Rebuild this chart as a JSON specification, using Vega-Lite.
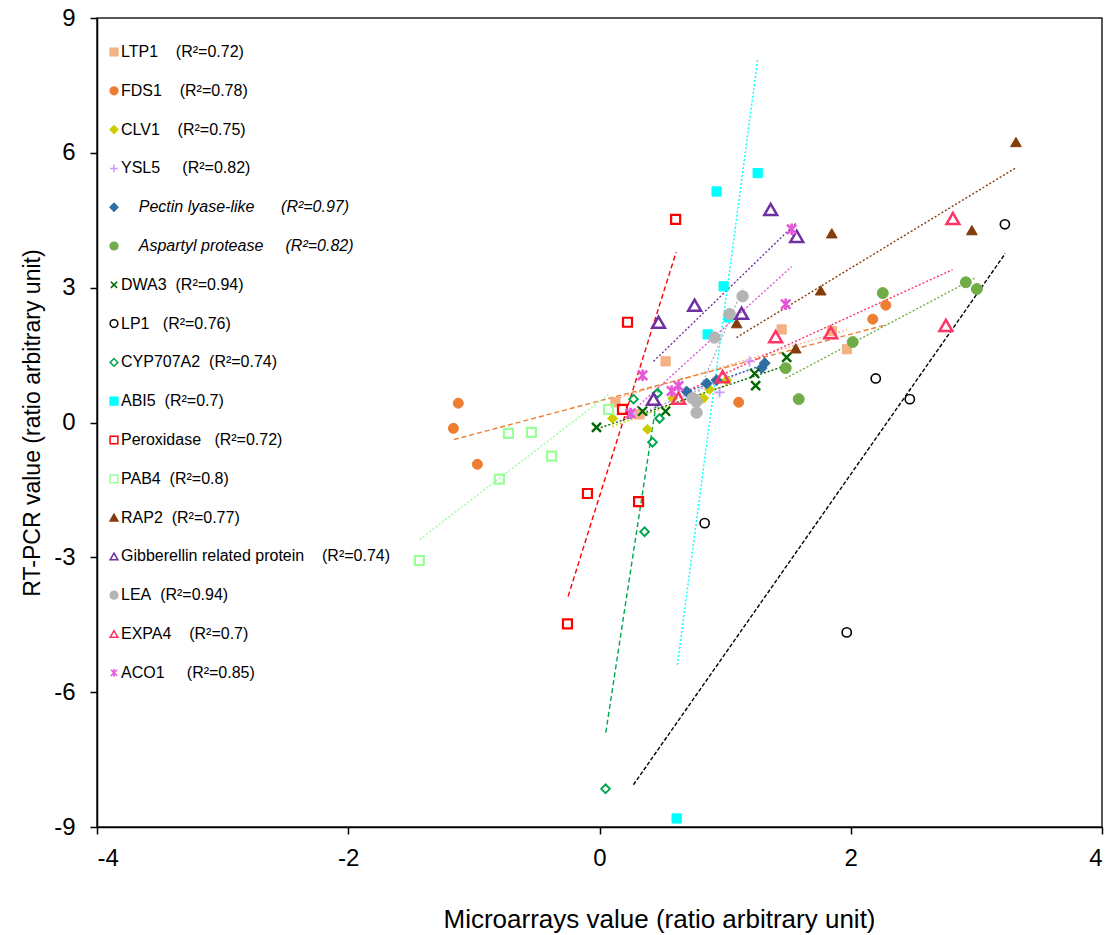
{
  "$schema": "https://vega.github.io/schema/vega-lite/v6.json",
  "width": 1005,
  "height": 809,
  "autosize": "none",
  "padding": {"left": 97, "top": 18, "right": 13, "bottom": 108},
  "config": {
    "font": "Liberation Sans",
    "view": {"stroke": "#222222", "strokeWidth": 1.5},
    "axis": {"grid": false, "domainColor": "#000000", "domainWidth": 1.5, "tickColor": "#000000", "tickWidth": 1.5, "tickSize": 7, "labelFontSize": 24, "labelColor": "#000000", "titleFontSize": 24, "titleFontWeight": "normal", "titleColor": "#000000", "labelFont": "Liberation Sans", "titleFont": "Liberation Sans"}
  },
  "datasets": {
    "pts": [
      {"series": "LTP1", "x": 0.526, "y": 1.36}, {"series": "LTP1", "x": 1.45, "y": 2.07}, {"series": "LTP1", "x": 1.97, "y": 1.63}, {"series": "LTP1", "x": 1.85, "y": 2.03}, {"series": "LTP1", "x": 0.127, "y": 0.45}, {"series": "LTP1", "x": 0.319, "y": 0.18},
      {"series": "FDS1", "x": -1.124, "y": 0.43}, {"series": "FDS1", "x": -1.163, "y": -0.13}, {"series": "FDS1", "x": -0.972, "y": -0.93}, {"series": "FDS1", "x": 1.108, "y": 0.45}, {"series": "FDS1", "x": 2.175, "y": 2.30}, {"series": "FDS1", "x": 2.279, "y": 2.61},
      {"series": "CLV1", "x": 0.104, "y": 0.09}, {"series": "CLV1", "x": 0.382, "y": -0.15}, {"series": "CLV1", "x": 0.582, "y": 0.54}, {"series": "CLV1", "x": 0.829, "y": 0.54}, {"series": "CLV1", "x": 0.876, "y": 0.74}, {"series": "CLV1", "x": 1.012, "y": 0.94},
      {"series": "YSL5", "x": 1.195, "y": 1.36}, {"series": "YSL5", "x": 0.956, "y": 0.67}, {"series": "YSL5", "x": 0.255, "y": 0.2},
      {"series": "Pectin lyase-like", "x": 0.693, "y": 0.69}, {"series": "Pectin lyase-like", "x": 0.853, "y": 0.87}, {"series": "Pectin lyase-like", "x": 0.932, "y": 0.94}, {"series": "Pectin lyase-like", "x": 1.291, "y": 1.21}, {"series": "Pectin lyase-like", "x": 1.315, "y": 1.32},
      {"series": "Aspartyl protease", "x": 1.482, "y": 1.21}, {"series": "Aspartyl protease", "x": 1.586, "y": 0.52}, {"series": "Aspartyl protease", "x": 2.016, "y": 1.79}, {"series": "Aspartyl protease", "x": 2.255, "y": 2.88}, {"series": "Aspartyl protease", "x": 2.916, "y": 3.12}, {"series": "Aspartyl protease", "x": 3.004, "y": 2.97},
      {"series": "DWA3", "x": -0.024, "y": -0.11}, {"series": "DWA3", "x": 0.343, "y": 0.25}, {"series": "DWA3", "x": 0.526, "y": 0.25}, {"series": "DWA3", "x": 1.235, "y": 1.09}, {"series": "DWA3", "x": 1.243, "y": 0.82}, {"series": "DWA3", "x": 1.49, "y": 1.45},
      {"series": "LP1", "x": 0.837, "y": -2.24}, {"series": "LP1", "x": 1.968, "y": -4.67}, {"series": "LP1", "x": 2.199, "y": 0.98}, {"series": "LP1", "x": 2.47, "y": 0.52}, {"series": "LP1", "x": 3.227, "y": 4.41},
      {"series": "CYP707A2", "x": 0.271, "y": 0.52}, {"series": "CYP707A2", "x": 0.462, "y": 0.65}, {"series": "CYP707A2", "x": 0.478, "y": 0.09}, {"series": "CYP707A2", "x": 0.422, "y": -0.44}, {"series": "CYP707A2", "x": 0.359, "y": -2.43}, {"series": "CYP707A2", "x": 0.048, "y": -8.15},
      {"series": "ABI5", "x": 1.259, "y": 5.55}, {"series": "ABI5", "x": 0.932, "y": 5.14}, {"series": "ABI5", "x": 0.988, "y": 3.03}, {"series": "ABI5", "x": 1.028, "y": 2.34}, {"series": "ABI5", "x": 0.861, "y": 1.96}, {"series": "ABI5", "x": 0.614, "y": -8.81},
      {"series": "Peroxidase", "x": 0.606, "y": 4.52}, {"series": "Peroxidase", "x": 0.223, "y": 2.23}, {"series": "Peroxidase", "x": 0.183, "y": 0.29}, {"series": "Peroxidase", "x": -0.096, "y": -1.58}, {"series": "Peroxidase", "x": 0.311, "y": -1.76}, {"series": "Peroxidase", "x": -0.255, "y": -4.48},
      {"series": "PAB4", "x": 0.072, "y": 0.29}, {"series": "PAB4", "x": -0.725, "y": -0.24}, {"series": "PAB4", "x": -0.542, "y": -0.22}, {"series": "PAB4", "x": -0.382, "y": -0.75}, {"series": "PAB4", "x": -0.797, "y": -1.26}, {"series": "PAB4", "x": -1.434, "y": -3.07},
      {"series": "RAP2", "x": 3.315, "y": 6.24}, {"series": "RAP2", "x": 2.964, "y": 4.28}, {"series": "RAP2", "x": 1.849, "y": 4.21}, {"series": "RAP2", "x": 1.761, "y": 2.94}, {"series": "RAP2", "x": 1.562, "y": 1.65}, {"series": "RAP2", "x": 1.092, "y": 2.21},
      {"series": "Gibberellin related protein", "x": 1.363, "y": 4.74}, {"series": "Gibberellin related protein", "x": 1.57, "y": 4.14}, {"series": "Gibberellin related protein", "x": 1.131, "y": 2.43}, {"series": "Gibberellin related protein", "x": 0.757, "y": 2.61}, {"series": "Gibberellin related protein", "x": 0.47, "y": 2.23}, {"series": "Gibberellin related protein", "x": 0.43, "y": 0.52},
      {"series": "LEA", "x": 1.139, "y": 2.81}, {"series": "LEA", "x": 1.036, "y": 2.41}, {"series": "LEA", "x": 0.916, "y": 1.89}, {"series": "LEA", "x": 0.741, "y": 0.54}, {"series": "LEA", "x": 0.773, "y": 0.47}, {"series": "LEA", "x": 0.773, "y": 0.22},
      {"series": "EXPA4", "x": 2.813, "y": 4.54}, {"series": "EXPA4", "x": 2.757, "y": 2.16}, {"series": "EXPA4", "x": 1.841, "y": 2.0}, {"series": "EXPA4", "x": 1.402, "y": 1.91}, {"series": "EXPA4", "x": 0.98, "y": 1.02}, {"series": "EXPA4", "x": 0.629, "y": 0.54},
      {"series": "ACO1", "x": 1.53, "y": 4.30}, {"series": "ACO1", "x": 1.482, "y": 2.63}, {"series": "ACO1", "x": 0.343, "y": 1.05}, {"series": "ACO1", "x": 0.574, "y": 0.70}, {"series": "ACO1", "x": 0.629, "y": 0.81}, {"series": "ACO1", "x": 0.247, "y": 0.2}
    ],
    "fits": [
      {"series": "LTP1", "x": 0.13, "y": 0.53}, {"series": "LTP1", "x": 1.97, "y": 2.06},
      {"series": "FDS1", "x": -1.16, "y": -0.38}, {"series": "FDS1", "x": 2.29, "y": 2.18},
      {"series": "CLV1", "x": 0.10, "y": -0.09}, {"series": "CLV1", "x": 1.01, "y": 0.83},
      {"series": "YSL5", "x": 0.25, "y": 0.12}, {"series": "YSL5", "x": 1.2, "y": 1.18},
      {"series": "Pectin lyase-like", "x": 0.69, "y": 0.68}, {"series": "Pectin lyase-like", "x": 1.32, "y": 1.3},
      {"series": "Aspartyl protease", "x": 1.48, "y": 0.98}, {"series": "Aspartyl protease", "x": 3.0, "y": 3.23},
      {"series": "DWA3", "x": -0.02, "y": -0.14}, {"series": "DWA3", "x": 1.49, "y": 1.27},
      {"series": "LP1", "x": 0.27, "y": -8.06}, {"series": "LP1", "x": 3.23, "y": 3.76},
      {"series": "CYP707A2", "x": 0.05, "y": -6.9}, {"series": "CYP707A2", "x": 0.47, "y": 0.76},
      {"series": "ABI5", "x": 0.62, "y": -5.39}, {"series": "ABI5", "x": 1.26, "y": 8.1},
      {"series": "Peroxidase", "x": -0.25, "y": -3.87}, {"series": "Peroxidase", "x": 0.61, "y": 3.79},
      {"series": "PAB4", "x": -1.43, "y": -2.6}, {"series": "PAB4", "x": 0.07, "y": 0.62},
      {"series": "RAP2", "x": 1.09, "y": 1.89}, {"series": "RAP2", "x": 3.31, "y": 5.66},
      {"series": "Gibberellin related protein", "x": 0.43, "y": 1.36}, {"series": "Gibberellin related protein", "x": 1.57, "y": 4.45},
      {"series": "LEA", "x": 0.74, "y": 0.35}, {"series": "LEA", "x": 1.14, "y": 2.98},
      {"series": "EXPA4", "x": 0.63, "y": 0.62}, {"series": "EXPA4", "x": 2.81, "y": 3.40},
      {"series": "ACO1", "x": 0.25, "y": 0.22}, {"series": "ACO1", "x": 1.53, "y": 3.47}
    ]
  },
  "layer": [
    {
      "data": {"name": "fits"},
      "mark": {"type": "line", "strokeWidth": 1.4},
      "encoding": {
        "x": {"field": "x", "type": "quantitative", "scale": {"domain": [-4, 4], "nice": false, "zero": false}, "title": "Microarrays value (ratio arbitrary unit)", "axis": {"values": [-4, -2, 0, 2, 4], "labelExpr": "'' + datum.value", "labelPadding": 12, "titlePadding": 36, "titleFontSize": 26, "titleX": 562}},
        "y": {"field": "y", "type": "quantitative", "scale": {"domain": [-9, 9], "nice": false, "zero": false}, "title": "RT-PCR value (ratio arbitrary unit)", "axis": {"values": [-9, -6, -3, 0, 3, 6, 9], "labelExpr": "'' + datum.value", "labelPadding": 15, "titlePadding": 9, "titleFontSize": 23}},
        "color": {"field": "series", "type": "nominal", "legend": null,
          "scale": {"domain": ["LTP1", "FDS1", "CLV1", "YSL5", "Pectin lyase-like", "Aspartyl protease", "DWA3", "LP1", "CYP707A2", "ABI5", "Peroxidase", "PAB4", "RAP2", "Gibberellin related protein", "LEA", "EXPA4", "ACO1", "zz"],
                    "range": ["#F4B183", "#ED7D31", "#CCCC00", "#CC99FF", "#2F6EA5", "#70AD47", "#006600", "#000000", "#00A650", "#00FFFF", "#FF0000", "#99FF99", "#843C0C", "#7030A0", "#B4B4B4", "#FF3366", "#E656D6", "#000000"]}},
        "strokeDash": {"field": "series", "type": "nominal", "legend": null,
          "scale": {"domain": ["LTP1", "FDS1", "CLV1", "YSL5", "Pectin lyase-like", "Aspartyl protease", "DWA3", "LP1", "CYP707A2", "ABI5", "Peroxidase", "PAB4", "RAP2", "Gibberellin related protein", "LEA", "EXPA4", "ACO1", "zz"],
                    "range": [[2, 2], [5, 3], [2, 2], [2, 2], [2, 2], [2, 2], [2, 2], [4, 2], [5, 3], [2, 2], [5, 3], [2, 2], [2, 2], [2, 2], [2, 2], [2, 2], [2, 2], [2, 2]]}}
      }
    },
    {
      "data": {"name": "pts"},
      "mark": {"type": "point", "opacity": 1},
      "encoding": {
        "x": {"field": "x", "type": "quantitative"},
        "y": {"field": "y", "type": "quantitative"},
        "stroke": {"field": "series", "type": "nominal",
          "legend": {"title": null, "orient": "none", "legendX": 9, "legendY": 26, "labelFontSize": 16, "labelFont": "Liberation Sans", "labelColor": "#000000", "symbolSize": 60, "symbolStrokeWidth": 1.5, "rowPadding": 22.8, "labelOffset": -1, "padding": 0, "labelLimit": 400,
            "labelFontStyle": {"expr": "(datum.value === 'Pectin lyase-like' || datum.value === 'Aspartyl protease') ? 'italic' : 'normal'"},
            "labelExpr": "{'LTP1':'LTP1\u00a0\u00a0\u00a0\u00a0(R²=0.72)','FDS1':'FDS1\u00a0\u00a0\u00a0\u00a0(R²=0.78)','CLV1':'CLV1\u00a0\u00a0\u00a0\u00a0(R²=0.75)','YSL5':'YSL5\u00a0\u00a0\u00a0\u00a0\u00a0(R²=0.82)','Pectin lyase-like':'\u200b\u00a0\u00a0\u00a0\u00a0Pectin lyase-like\u00a0\u00a0\u00a0\u00a0\u00a0\u00a0(R²=0.97)','Aspartyl protease':'\u200b\u00a0\u00a0\u00a0\u00a0Aspartyl protease\u00a0\u00a0\u00a0\u00a0\u00a0(R²=0.82)','DWA3':'DWA3\u00a0\u00a0(R²=0.94)','LP1':'LP1\u00a0\u00a0\u00a0(R²=0.76)','CYP707A2':'CYP707A2\u00a0\u00a0(R²=0.74)','ABI5':'ABI5\u00a0\u00a0(R²=0.7)','Peroxidase':'Peroxidase\u00a0\u00a0\u00a0(R²=0.72)','PAB4':'PAB4\u00a0\u00a0(R²=0.8)','RAP2':'RAP2\u00a0\u00a0(R²=0.77)','Gibberellin related protein':'Gibberellin related protein\u00a0\u00a0\u00a0\u00a0(R²=0.74)','LEA':'LEA\u00a0\u00a0(R²=0.94)','EXPA4':'EXPA4\u00a0\u00a0\u00a0\u00a0(R²=0.7)','ACO1':'ACO1\u00a0\u00a0\u00a0\u00a0\u00a0(R²=0.85)'}[datum.value]"},
          "scale": {"domain": ["LTP1", "FDS1", "CLV1", "YSL5", "Pectin lyase-like", "Aspartyl protease", "DWA3", "LP1", "CYP707A2", "ABI5", "Peroxidase", "PAB4", "RAP2", "Gibberellin related protein", "LEA", "EXPA4", "ACO1"],
                    "range": ["#F4B183", "#ED7D31", "#CCCC00", "#CC99FF", "#2F6EA5", "#70AD47", "#006600", "#000000", "#00A650", "#00FFFF", "#FF0000", "#99FF99", "#843C0C", "#7030A0", "#B4B4B4", "#FF3366", "#E656D6"]}},
        "fill": {"field": "series", "type": "nominal",
          "legend": {"title": null, "orient": "none", "legendX": 9, "legendY": 26, "labelFontSize": 16, "labelFont": "Liberation Sans", "labelColor": "#000000", "symbolSize": 60, "symbolStrokeWidth": 1.5, "rowPadding": 22.8, "labelOffset": -1, "padding": 0, "labelLimit": 400},
          "scale": {"domain": ["LTP1", "FDS1", "CLV1", "YSL5", "Pectin lyase-like", "Aspartyl protease", "DWA3", "LP1", "CYP707A2", "ABI5", "Peroxidase", "PAB4", "RAP2", "Gibberellin related protein", "LEA", "EXPA4", "ACO1"],
                    "range": ["#F4B183", "#ED7D31", "#CCCC00", "transparent", "#2F6EA5", "#70AD47", "transparent", "transparent", "transparent", "#00FFFF", "transparent", "transparent", "#843C0C", "transparent", "#B4B4B4", "transparent", "transparent"]}},
        "shape": {"field": "series", "type": "nominal",
          "legend": {"title": null, "orient": "none", "legendX": 9, "legendY": 26, "labelFontSize": 16, "labelFont": "Liberation Sans", "labelColor": "#000000", "symbolSize": 60, "symbolStrokeWidth": 1.5, "rowPadding": 22.8, "labelOffset": -1, "padding": 0, "labelLimit": 400},
          "scale": {"domain": ["LTP1", "FDS1", "CLV1", "YSL5", "Pectin lyase-like", "Aspartyl protease", "DWA3", "LP1", "CYP707A2", "ABI5", "Peroxidase", "PAB4", "RAP2", "Gibberellin related protein", "LEA", "EXPA4", "ACO1"],
                    "range": ["square", "circle", "diamond", "M-1,0L1,0M0,-1L0,1", "diamond", "circle", "M-0.8,-0.8L0.8,0.8M-0.8,0.8L0.8,-0.8", "circle", "diamond", "square", "square", "square", "triangle-up", "triangle-up", "circle", "triangle-up", "M-0.8,-0.8L0.8,0.8M-0.8,0.8L0.8,-0.8M0,-1L0,1"]}},
        "size": {"field": "series", "type": "nominal", "legend": null,
          "scale": {"type": "ordinal", "domain": ["LTP1", "FDS1", "CLV1", "YSL5", "Pectin lyase-like", "Aspartyl protease", "DWA3", "LP1", "CYP707A2", "ABI5", "Peroxidase", "PAB4", "RAP2", "Gibberellin related protein", "LEA", "EXPA4", "ACO1", "zz"],
                    "range": [85, 100, 100, 100, 120, 120, 127, 85, 75, 85, 81, 81, 115, 165, 130, 165, 135, 100]}},
        "strokeWidth": {"field": "series", "type": "nominal", "legend": null,
          "scale": {"type": "ordinal", "domain": ["LTP1", "FDS1", "CLV1", "YSL5", "Pectin lyase-like", "Aspartyl protease", "DWA3", "LP1", "CYP707A2", "ABI5", "Peroxidase", "PAB4", "RAP2", "Gibberellin related protein", "LEA", "EXPA4", "ACO1", "zz"],
                    "range": [1, 1, 1, 1.8, 1, 1, 2.4, 1.6, 1.9, 1, 2.2, 2.2, 1, 2.5, 1, 2.5, 2.6, 1]}}
      }
    }
  ]
}
